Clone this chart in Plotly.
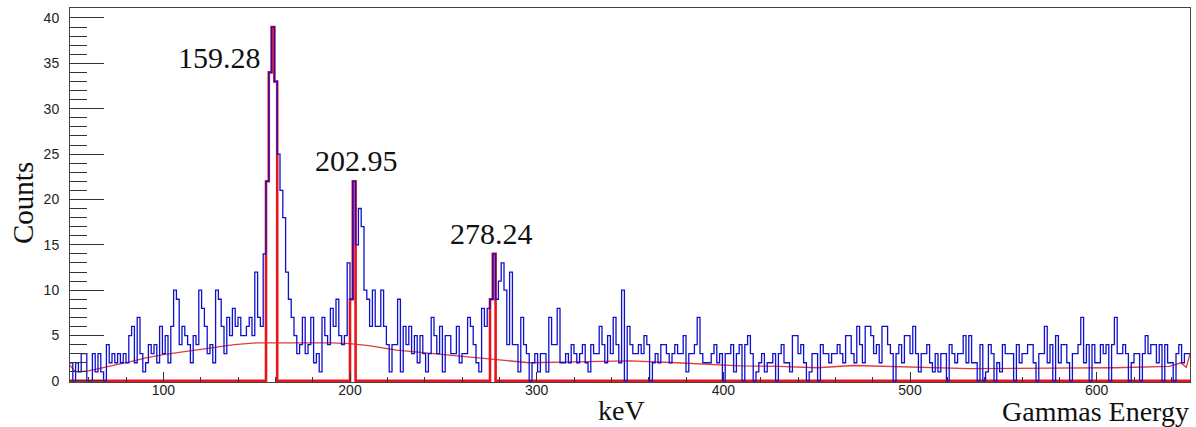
import numpy as np
import plotly.graph_objects as go

# ---------------- data ----------------
E_MIN = 50.0          # keV, left edge of first bin
BIN_WIDTH = 1.5       # keV
counts = [
    2, 0, 2, 1, 3, 3, 0, 0, 3, 1,
    3, 1, 0, 4, 2, 3, 2, 3, 2, 3,
    2, 5, 6, 2, 7, 3, 1, 2, 4, 3,
    4, 2, 6, 3, 5, 2, 6, 10, 9, 4,
    6, 5, 4, 2, 5, 4, 10, 8, 6, 3,
    4, 2, 10, 9, 6, 3, 7, 5, 8, 6,
    7, 5, 5, 6, 7, 5, 12, 7, 6, 14,
    22, 34, 39, 33, 25, 21, 18, 12, 9, 7,
    5, 3, 4, 7, 3, 4, 7, 2, 3, 1,
    7, 5, 4, 8, 6, 9, 5, 4, 5, 13,
    9, 22, 15, 19, 17, 10, 9, 6, 10, 6,
    6, 10, 6, 4, 1, 4, 4, 9, 1, 6,
    4, 6, 3, 5, 2, 5, 3, 1, 3, 7,
    5, 3, 6, 1, 5, 5, 3, 3, 6, 2,
    3, 3, 7, 6, 4, 2, 1, 8, 6, 8,
    9, 14, 9, 11, 13, 10, 4, 12, 4, 4,
    1, 7, 4, 3, 0, 2, 3, 1, 3, 3,
    1, 7, 4, 4, 8, 2, 2, 3, 2, 4,
    3, 2, 3, 4, 2, 1, 4, 3, 3, 6,
    4, 2, 5, 3, 7, 4, 2, 10, 0, 6,
    4, 3, 3, 4, 3, 5, 4, 0, 2, 3,
    2, 4, 4, 3, 2, 3, 4, 3, 3, 5,
    1, 3, 3, 4, 7, 3, 2, 2, 2, 3,
    4, 2, 3, 0, 3, 3, 4, 1, 3, 4,
    0, 4, 5, 3, 0, 1, 2, 3, 1, 2,
    2, 3, 0, 3, 4, 2, 2, 1, 5, 5,
    3, 4, 2, 0, 1, 3, 3, 0, 4, 3,
    3, 2, 3, 3, 4, 3, 2, 5, 5, 3,
    2, 6, 4, 2, 6, 6, 5, 3, 4, 2,
    6, 6, 4, 3, 0, 3, 4, 2, 5, 5,
    3, 6, 3, 1, 3, 3, 4, 2, 1, 3,
    1, 3, 3, 0, 4, 3, 2, 3, 3, 5,
    2, 5, 2, 2, 0, 4, 0, 1, 4, 3,
    0, 2, 1, 4, 3, 3, 3, 0, 4, 2,
    3, 3, 4, 4, 2, 0, 3, 3, 6, 2,
    4, 0, 5, 2, 4, 4, 2, 0, 3, 3,
    4, 7, 2, 4, 0, 4, 2, 2, 4, 3,
    4, 0, 4, 7, 3, 3, 4, 3, 0, 2,
    3, 3, 0, 3, 5, 3, 4, 4, 2, 4,
    0, 4, 2, 2, 0, 3, 4, 2, 3, 3,
]
# bins that belong to the fitted photo-peaks (drawn in red)
peak_bins = [70, 71, 72, 73, 100, 101, 150, 151]

# fitted background curve
bg_energy = [50, 53, 60, 66, 75, 82, 90, 100, 110, 120, 130, 138, 150, 160,
             175, 190, 200, 210, 225, 240, 260, 280, 296, 320, 350, 375, 409,
             430, 450, 470, 500, 532, 575, 610, 639, 645, 648, 650]
bg_counts = [1.7, 1.0, 1.1, 1.4, 1.8, 2.1, 2.5, 2.9, 3.2, 3.5, 3.8, 4.0, 4.2, 4.2,
             4.2, 4.2, 4.1, 3.9, 3.4, 3.1, 2.7, 2.3, 2.0, 2.1, 2.2, 2.0, 1.65,
             1.6, 1.45, 1.7, 1.55, 1.35, 1.4, 1.45, 1.6, 2.0, 1.5, 3.0]

peak_labels = ["159.28", "202.95", "278.24"]
peak_label_x = [130.3, 203.7, 276.0]
peak_label_y = [35.6, 24.3, 16.3]

x_ticks = [100, 200, 300, 400, 500, 600]
y_ticks = [0, 5, 10, 15, 20, 25, 30, 35, 40]

# ---------------- figure ----------------
n = len(counts)
edges = E_MIN + BIN_WIDTH * np.arange(n + 1)
blue_y = list(counts) + [counts[-1]]
red_counts = [counts[i] if i in peak_bins else 0 for i in range(n)]
red_y = red_counts + [red_counts[-1]]

fig = go.Figure()
fig.add_trace(go.Scatter(x=bg_energy, y=bg_counts, mode="lines",
                         line=dict(color="#e23a3a", width=1.3), hoverinfo="skip"))
fig.add_trace(go.Scatter(x=edges, y=red_y, mode="lines", line_shape="hv",
                         line=dict(color="#e8141c", width=2.6), hoverinfo="skip"))
fig.add_trace(go.Scatter(x=edges, y=blue_y, mode="lines", line_shape="hv",
                         line=dict(color="#1010cc", width=1.3), hoverinfo="skip"))

tick_font = dict(family="Liberation Sans, Arial, sans-serif", size=14, color="#222222")
serif = "Liberation Serif, Times New Roman, serif"

fig.update_layout(
    width=1196, height=427,
    margin=dict(l=70, r=6, t=8, b=45),
    paper_bgcolor="white", plot_bgcolor="white",
    showlegend=False,
    xaxis=dict(range=[E_MIN, E_MIN + BIN_WIDTH * n], tickvals=x_ticks,
               ticks="inside", ticklen=10, tickwidth=1, tickcolor="#333333",
               minor=dict(dtick=20, tick0=0, ticks="inside", ticklen=5,
                          tickcolor="#333333", showgrid=False),
               showline=True, mirror=True, linecolor="#444444", linewidth=1,
               showgrid=False, zeroline=False, tickfont=tick_font,
               ticklabelstandoff=-5),
    yaxis=dict(range=[-0.12, 41.1], tickvals=y_ticks,
               ticks="inside", ticklen=34, tickwidth=1, tickcolor="#333333",
               minor=dict(dtick=1, tick0=0, ticks="inside", ticklen=17,
                          tickcolor="#333333", showgrid=False),
               showline=True, mirror=True, linecolor="#444444", linewidth=1,
               showgrid=False, zeroline=False, tickfont=tick_font,
               ticklabelstandoff=7),
)

for txt, xv, yv in zip(peak_labels, peak_label_x, peak_label_y):
    fig.add_annotation(x=xv, y=yv, xref="x", yref="y", text=txt, showarrow=False,
                       xanchor="center", yanchor="middle",
                       font=dict(family=serif, size=30, color="#111111"))

# axis titles
fig.add_annotation(x=(23 - 70) / 1120, y=1 - (203 - 8) / 374, xref="paper", yref="paper",
                   text="Counts", textangle=-90, showarrow=False,
                   xanchor="center", yanchor="middle",
                   font=dict(family=serif, size=29, color="#111111"))
fig.add_annotation(x=(621 - 70) / 1120, y=1 - (410.5 - 8) / 374, xref="paper", yref="paper",
                   text="keV", showarrow=False, xanchor="center", yanchor="middle",
                   font=dict(family=serif, size=28, color="#111111"))
fig.add_annotation(x=(1191 - 70) / 1120, y=1 - (411.5 - 8) / 374, xref="paper", yref="paper",
                   text="Gammas Energy", showarrow=False, xanchor="right", yanchor="middle",
                   font=dict(family=serif, size=28, color="#111111"))

fig.write_html("out.html", config={"displayModeBar": False},
               post_script="document.body.style.margin='0';")
